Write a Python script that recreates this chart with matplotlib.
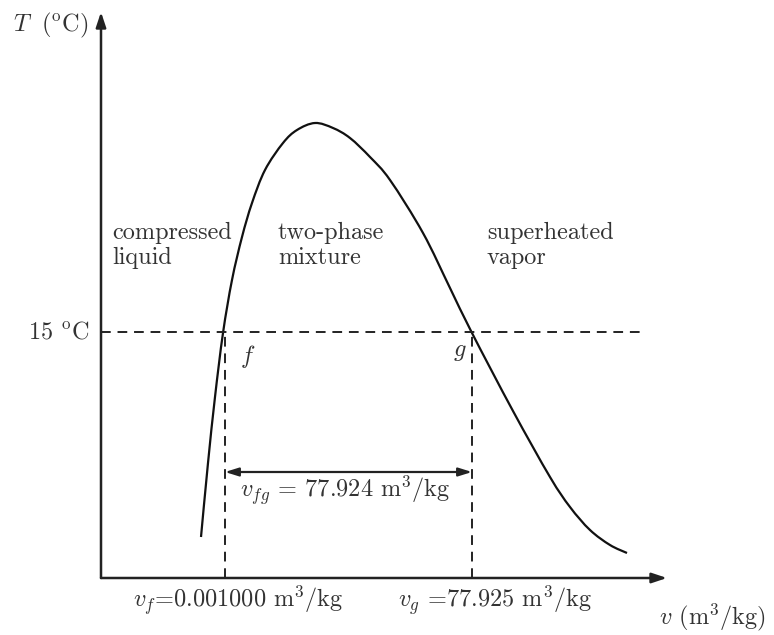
import matplotlib
matplotlib.use("Agg")
import matplotlib.pyplot as plt
from matplotlib.path import Path
from matplotlib.patches import PathPatch
import numpy as np

plt.rcParams['font.family'] = ['cmr10', 'DejaVu Serif']
plt.rcParams['mathtext.fontset'] = 'cm'
plt.rcParams['axes.formatter.use_mathtext'] = True

# Saturation dome (arbitrary units)
v_dome = [10.0, 10.7, 11.4, 12.2, 13.1, 14.1, 15.1, 16.4, 18.2, 19.6, 21.4, 23.2, 24.9,
          26.9, 28.9, 32.2, 34.9, 37.1, 41.2, 44.9, 46.9, 48.9, 50.9, 52.6]
T_dome = [4.1, 11.5, 18.1, 24.5, 29.8, 34.1, 37.5, 40.8, 43.5, 44.8, 45.5, 45.0, 44.0,
          42.1, 39.8, 34.5, 29.0, 24.5, 16.7, 10.1, 7.1, 4.8, 3.3, 2.5]

T_sat = 24.6      # 15 degC line
v_f = 12.4
v_g = 37.1
v_end = 53.9      # end of the dashed isotherm
T_arrow = 10.6    # level of the v_fg arrow
x_max = 56.6
y_max = 56.6

fig = plt.figure(figsize=(7.74, 6.35), dpi=100)
ax = fig.add_axes([0, 0, 1, 1])
ax.set_xlim(-10.1, 67.3)
ax.set_ylim(-5.7, 57.8)
ax.axis('off')

# Axes with arrows
head = '-|>,head_length=0.9,head_width=0.3'
ax.annotate('', xy=(0, y_max), xytext=(0, 0),
            arrowprops=dict(arrowstyle=head, color='#222222', lw=1.8, shrinkA=0, shrinkB=0))
ax.annotate('', xy=(x_max, 0), xytext=(0, 0),
            arrowprops=dict(arrowstyle=head, color='#222222', lw=1.8, shrinkA=0, shrinkB=0))

# Dome drawn as a smooth Bezier path through the read points
pts = np.column_stack([v_dome, T_dome])
verts = [pts[0]]
codes = [Path.MOVETO]
for i in range(len(pts) - 1):
    p0 = pts[max(i - 1, 0)]
    p1 = pts[i]
    p2 = pts[i + 1]
    p3 = pts[min(i + 2, len(pts) - 1)]
    verts += [p1 + (p2 - p0) / 6, p2 - (p3 - p1) / 6, p2]
    codes += [Path.CURVE4] * 3
ax.add_patch(PathPatch(Path(verts, codes), facecolor='none', edgecolor='#111111', lw=1.6))

# Isotherm and vertical dashes
dash = (0, (5, 3.5))
ax.plot([0, v_end], [T_sat, T_sat], color='#222222', lw=1.4, linestyle=dash)
ax.plot([v_f, v_f], [0, T_sat], color='#222222', lw=1.4, linestyle=dash)
ax.plot([v_g, v_g], [0, T_sat], color='#222222', lw=1.4, linestyle=dash)

# v_fg double arrow
ax.annotate('', xy=(v_g, T_arrow), xytext=(v_f, T_arrow),
            arrowprops=dict(arrowstyle='<|-|>,head_length=0.8,head_width=0.25', color='#222222', lw=1.6, shrinkA=0, shrinkB=0))

fs = 17.5
tc = '#333333'
ax.text(-1.3, 55.3, r'$T\;$ ($^{\rm o}$C)', fontsize=fs, ha='right', va='center', color=tc)
ax.text(-1.1, T_sat, r'15 $^{\rm o}$C', fontsize=fs, ha='right', va='center', color=tc)
ax.text(1.1, 35.6, 'compressed\nliquid', fontsize=fs, ha='left', va='top', color=tc, linespacing=1.15)
ax.text(17.7, 35.6, 'two-phase\nmixture', fontsize=fs, ha='left', va='top', color=tc, linespacing=1.15)
ax.text(38.6, 35.6, 'superheated\nvapor', fontsize=fs, ha='left', va='top', color=tc, linespacing=1.15)
ax.text(13.9, 22.1, r'$f$', fontsize=fs, ha='left', va='center', color=tc)
ax.text(35.2, 22.6, r'$g$', fontsize=fs, ha='left', va='center', color=tc)
ax.text(24.4, 8.7, r'$v_{fg}$ = 77.924 m$^3$/kg', fontsize=fs, ha='center', va='center', color=tc)
ax.text(3.2, -2.3, r'$v_f$=0.001000 m$^3$/kg', fontsize=fs, ha='left', va='center', color=tc)
ax.text(29.7, -2.3, r'$v_g$ =77.925 m$^3$/kg', fontsize=fs, ha='left', va='center', color=tc)
ax.text(66.5, -3.9, r'$v$ (m$^3$/kg)', fontsize=fs, ha='right', va='center', color=tc)

fig.savefig('out.png', dpi=100)
